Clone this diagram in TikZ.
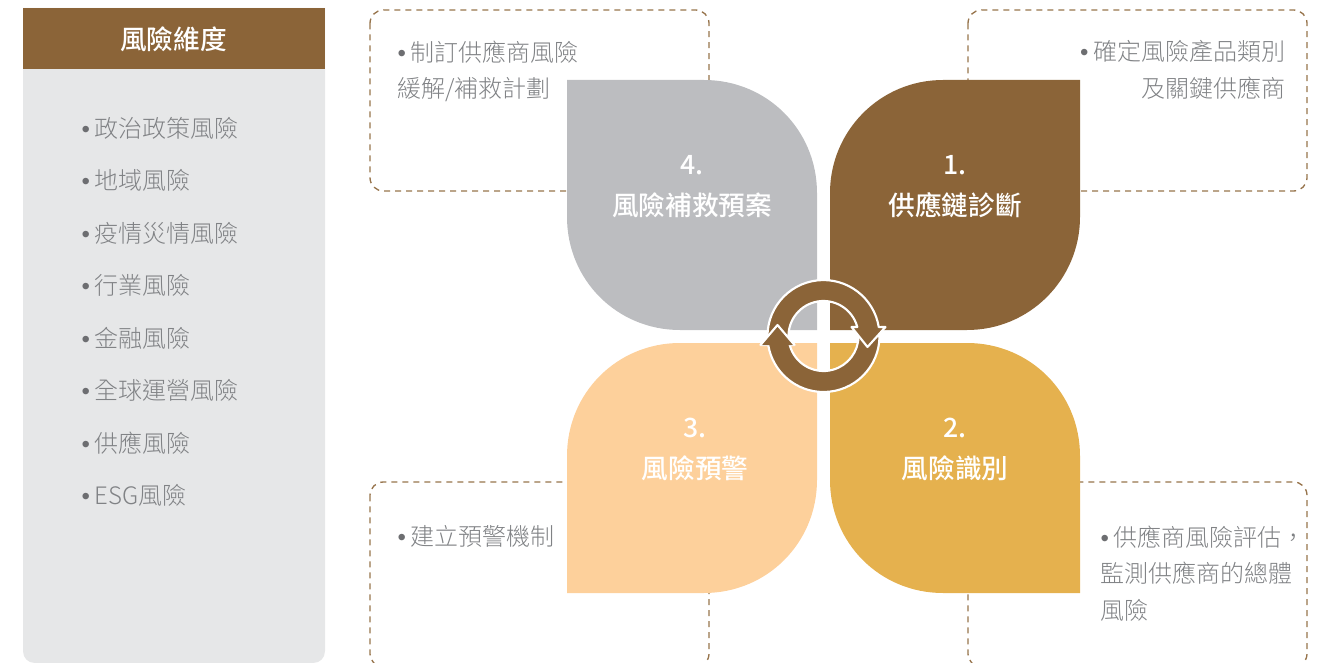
\documentclass[tikz,border=0pt]{standalone}
\usepackage{fontspec}
\setmainfont{Noto Sans CJK TC}[UprightFont=* Light,BoldFont=* Medium]
\newfontfamily\dotfont{Liberation Sans}
\definecolor{barkbrown}{RGB}{139,100,56}
\definecolor{wheatgold}{RGB}{229,177,78}
\definecolor{peachtone}{RGB}{253,208,155}
\definecolor{ashgrey}{RGB}{188,189,192}
\definecolor{panelgrey}{RGB}{230,231,232}
\definecolor{copygrey}{RGB}{128,130,133}
\definecolor{dotgrey}{RGB}{109,110,113}
\newcommand{\dotmark}{{\dotfont\color{dotgrey}•}\hspace{3.8pt}}
\tikzset{
	every picture/.style={line width=0.75pt},
	notebox/.style={draw=barkbrown!90,dash pattern=on 4.5pt off 3.75pt,line width=1pt,rounded corners=10pt},
	listtext/.style={font=\fontsize{18}{27.6}\selectfont,text=copygrey,inner sep=0pt,anchor=west},
	notetext/.style={listtext,anchor=north west},
	petaltext/.style={font=\fontsize{20}{30}\selectfont\bfseries,text=white,align=center,inner sep=0pt},
	cyclearrow/.style={fill=barkbrown,draw=white,line width=1.6pt,line join=round}}

\begin{document}
\begin{tikzpicture}[x=0.75pt,y=0.75pt,yscale=-1,xscale=1]
	\useasboundingbox (0,0) rectangle (1325,663);

	%Left panel
	\fill [panelgrey] (23,8) -- (325,8) -- (325,651) .. controls (325,658) and (320,663) .. (313,663) -- (35,663) .. controls (28,663) and (23,658) .. (23,651) -- cycle ;
	\fill [barkbrown] (23,8) -- (325,8) -- (325,69) -- (23,69) -- cycle ;

	%Dashed boxes
	\draw [notebox] (370,10) rectangle (709,191) ;
	\draw [notebox] (968,10) rectangle (1307,191) ;
	\draw [notebox] (370,482) rectangle (709,667) ;
	\draw [notebox] (968,482) rectangle (1307,667) ;

	%Petal 1
	\fill [barkbrown] (1080,80) -- (1080,217) .. controls (1080,279) and (1030,330) .. (967,330) -- (830,330) -- (830,193) .. controls (830,131) and (880,80) .. (943,80) -- cycle ;
	%Petal 2
	\fill [wheatgold] (830,343) -- (967,343) .. controls (1030,343) and (1080,393) .. (1080,456) -- (1080,593) -- (943,593) .. controls (880,593) and (830,543) .. (830,480) -- cycle ;
	%Petal 3
	\fill [peachtone] (817,343) -- (817,480) .. controls (817,543) and (767,593) .. (704,593) -- (567,593) -- (567,456) .. controls (567,393) and (617,343) .. (680,343) -- cycle ;
	%Petal 4
	\fill [ashgrey] (567,80) -- (704,80) .. controls (767,80) and (817,130) .. (817,193) -- (817,330) -- (680,330) .. controls (617,330) and (567,280) .. (567,217) -- cycle ;

	%Cycle arrow, lower
	\draw [cyclearrow] (879.5,336) arc [start angle=0,end angle=170.8,radius=56] -- (760.5,345) -- (777.5,325) -- (794.5,345) -- (789.7,345) arc [start angle=165.1,end angle=0,radius=35] -- cycle ;
	%Cycle arrow, upper
	\draw [cyclearrow] (767.8,341.9) arc [start angle=174,end angle=350.8,radius=56] -- (885.5,327) -- (867.5,347) -- (851.5,327) -- (857.3,327) arc [start angle=345.1,end angle=174,radius=35] -- cycle ;
	%Head of the lower arrow again, over the tail of the upper one
	\filldraw [cyclearrow] (760.5,345) -- (777.5,325) -- (794.5,345) ;

	% Text Node
	\draw (173.5,39.5) node [font=\fontsize{20}{24}\selectfont\bfseries,text=white,inner sep=0pt] (paneltitle) {風險維度};
	% Text Node
	\draw (81,128) node [listtext] (listitema) {\dotmark 政治政策風險};
	% Text Node
	\draw (81,180.5) node [listtext] (listitemb) {\dotmark 地域風險};
	% Text Node
	\draw (81,233) node [listtext] (listitemc) {\dotmark 疫情災情風險};
	% Text Node
	\draw (81,285.5) node [listtext] (listitemd) {\dotmark 行業風險};
	% Text Node
	\draw (81,338) node [listtext] (listiteme) {\dotmark 金融風險};
	% Text Node
	\draw (81,390.5) node [listtext] (listitemf) {\dotmark 全球運營風險};
	% Text Node
	\draw (81,443) node [listtext] (listitemg) {\dotmark 供應風險};
	% Text Node
	\draw (81,495.5) node [listtext] (listitemh) {\dotmark ESG風險};

	% Text Node
	\draw (397,40) node [notetext,align=left] (noteplan) {\dotmark 制訂供應商風險\\緩解/補救計劃};
	% Text Node
	\draw (1286,40) node [notetext,anchor=north east,align=right] (notescope) {\dotmark 確定風險產品類別\\及關鍵供應商};
	% Text Node
	\draw (397,525) node [notetext,align=left] (notealert) {\dotmark 建立預警機制};
	% Text Node
	\draw (1100,525) node [notetext,align=left] (noteassess) {\dotmark 供應商風險評估，\\監測供應商的總體\\風險};

	% Text Node
	\draw (955,186.5) node [petaltext] (petalone) {1.\\[1pt]供應鏈診斷};
	% Text Node
	\draw (955,449.5) node [petaltext] (petaltwo) {2.\\[1pt]風險識別};
	% Text Node
	\draw (695,449.5) node [petaltext] (petalthree) {3.\\[1pt]風險預警};
	% Text Node
	\draw (692,186.5) node [petaltext] (petalfour) {4.\\[1pt]風險補救預案};
\end{tikzpicture}
\end{document}
